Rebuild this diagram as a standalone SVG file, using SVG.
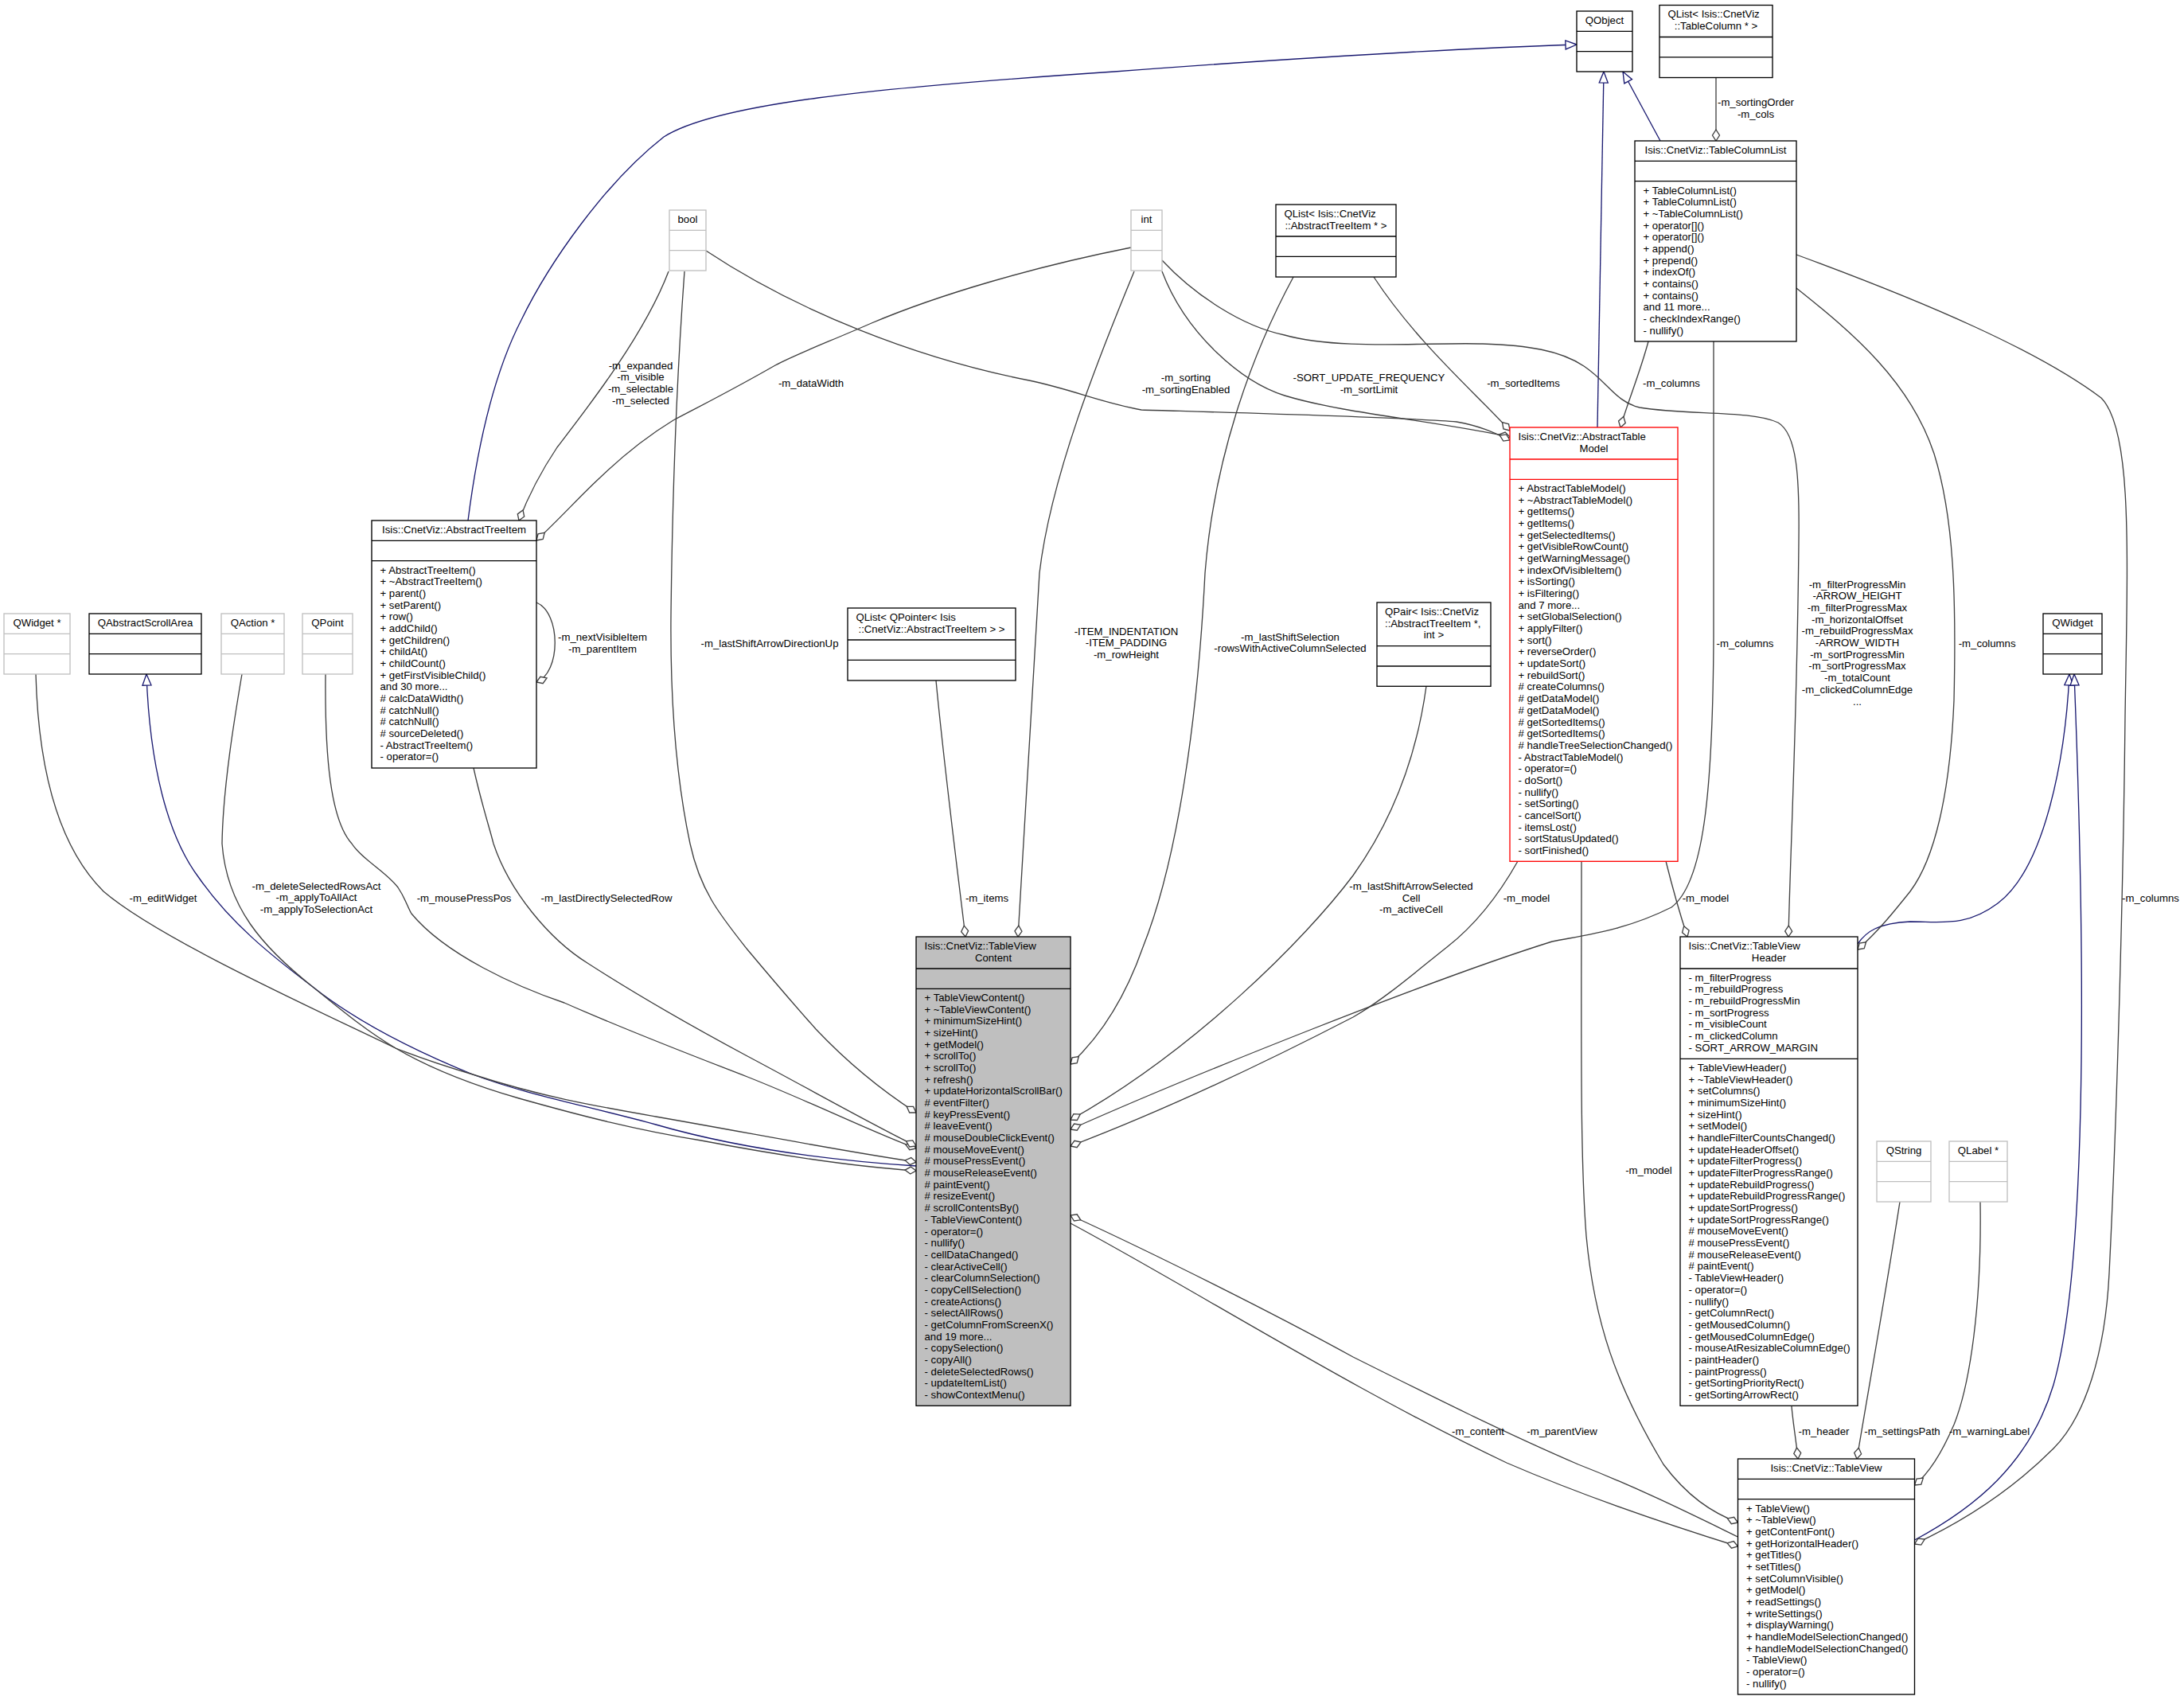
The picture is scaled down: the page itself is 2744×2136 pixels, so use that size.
<svg xmlns="http://www.w3.org/2000/svg" width="2744" height="2136" viewBox="0 0 2744 2136">
<style>
text{font-family:"Liberation Sans",Arial,Helvetica,sans-serif;font-size:13.2px;fill:#000}
.c{text-anchor:middle}
.bn rect{fill:#fff;stroke:#000;stroke-width:1.33}
.bn path{fill:none;stroke:#000;stroke-width:1.33}
.gn rect{fill:#fff;stroke:#bfbfbf;stroke-width:1.33}
.gn path{fill:none;stroke:#bfbfbf;stroke-width:1.33}
.rn rect{fill:#fff;stroke:#ff0000;stroke-width:1.33}
.rn path{fill:none;stroke:#ff0000;stroke-width:1.33}
#n_TableViewContent rect{fill:#bfbfbf}
.e{fill:none;stroke:#404040;stroke-width:1.33;marker-end:url(#dia)}
.i{fill:none;stroke:#191970;stroke-width:1.33;marker-end:url(#tri)}
</style>
<defs>
<marker id="dia" viewBox="-16 -6 17 12" refX="0" refY="0" markerWidth="17" markerHeight="12" markerUnits="userSpaceOnUse" orient="auto">
<path d="M0,0 L-7,-4.5 L-14,0 L-7,4.5 Z" fill="#fff" stroke="#404040" stroke-width="1.33"/>
</marker>
<marker id="tri" viewBox="-16 -7 17 14" refX="0" refY="0" markerWidth="17" markerHeight="14" markerUnits="userSpaceOnUse" orient="auto">
<path d="M0,0 L-14,-5.5 L-14,5.5 Z" fill="#fff" stroke="#191970" stroke-width="1.33"/>
</marker>
</defs>
<rect x="0" y="0" width="2744" height="2136" fill="#fff"/>

<g id="connectors">
<path class="i" d="M588,654 C600,560 620,470 655,402 C690,330 760,230 834,172 C900,130 1100,110 1400,90 C1600,75 1800,62 1981,56"/>
<path class="i" d="M2007,537 L2015,90"/>
<path class="i" d="M2086,177 L2039,90"/>
<path class="i" d="M1151,1465 C1000,1455 900,1435 824,1413 C740,1390 660,1375 594,1350 C520,1320 450,1285 393,1240 C340,1200 290,1160 250,1103 C210,1050 188,960 184,847"/>
<path class="i" d="M2334,1186 C2345,1170 2360,1160 2400,1158 C2440,1158 2470,1165 2510,1135 C2570,1090 2595,950 2600,847"/>
<path class="i" d="M2405.5,1935 C2480,1895 2550,1840 2580,1740 C2620,1600 2622,1250 2606,847"/>

<path class="e" d="M45,847 C48,960 70,1060 130,1120 C200,1180 400,1270 497,1317 C530,1330 560,1340 594,1350 C680,1378 750,1390 824,1403 C950,1425 1050,1445 1151,1460"/>
<path class="e" d="M304,847 C295,900 280,990 279,1060 C285,1140 330,1190 393,1240 C430,1270 460,1295 497,1317 C545,1345 600,1365 652,1380 C730,1402 800,1420 881,1433 C970,1450 1060,1465 1151,1471"/>
<path class="e" d="M409,847 C408,950 415,1030 442,1060 C455,1080 485,1095 500,1115 C510,1130 512,1140 517,1148 C560,1200 650,1240 709,1260 C800,1300 880,1330 939,1353 C1020,1385 1090,1420 1151,1443"/>
<path class="e" d="M595,965 C605,1010 615,1040 620,1060 C640,1120 690,1180 738,1210 C800,1250 870,1290 939,1327 C1020,1370 1090,1410 1151,1440"/>
<path class="e" d="M860,341 C852,450 845,600 843,773 C842,880 850,980 867,1060 C880,1120 905,1150 939,1193 C970,1230 1000,1265 1025,1293 C1060,1330 1100,1365 1151,1398"/>
<path class="e" d="M840,341 C810,420 740,510 700,562 C680,592 665,620 652,654"/>
<path class="e" d="M1421,311 C1300,335 1180,370 1095,406 C1040,430 1000,445 974,459 C920,490 880,510 846,528 C810,550 780,575 754,600 C730,622 705,650 674,679"/>
<path class="e" d="M674,757 C705,770 705,845 674,857"/>
<path class="e" d="M1425,341 C1380,450 1320,600 1306,720 C1298,850 1290,1000 1279,1177"/>
<path class="e" d="M1176,855 C1186,960 1200,1070 1213,1177"/>
<path class="e" d="M1625,348 C1570,450 1525,580 1514,720 C1505,900 1480,1080 1436,1190 C1415,1250 1385,1300 1345,1337"/>
<path class="e" d="M1792,862 C1780,950 1750,1030 1700,1100 C1640,1180 1500,1320 1345,1407"/>
<path class="e" d="M2153,429 L2153,800 C2152,1000 2140,1110 2100,1140 C2040,1170 1990,1175 1950,1183 C1800,1230 1500,1350 1345,1419"/>
<path class="e" d="M1907,1082 C1880,1130 1850,1165 1818,1190 C1780,1220 1740,1255 1700,1278 C1580,1340 1450,1400 1345,1440"/>
<path class="e" d="M2183.5,1931 C2130,1905 2060,1870 1983,1840 C1890,1800 1800,1755 1700,1705 C1600,1650 1450,1575 1345,1527"/>
<path class="e" d="M1345,1537 C1500,1620 1700,1747 1893,1838 C1990,1880 2100,1917 2183.5,1943"/>
<path class="e" d="M1987,1082 C1987,1300 1985,1450 1993,1553 C2003,1660 2030,1740 2090,1840 C2120,1880 2150,1900 2183.5,1913"/>
<path class="e" d="M2251,1767 C2253,1790 2256,1805 2259,1833"/>
<path class="e" d="M2387,1510 C2370,1620 2352,1720 2333,1833"/>
<path class="e" d="M2488,1510 C2490,1640 2475,1740 2455,1790 C2440,1825 2425,1850 2405.5,1866"/>
<path class="e" d="M2257,320 C2420,380 2560,440 2640,500 C2680,540 2673,700 2670,900 C2668,1100 2660,1400 2650,1600 C2645,1700 2620,1780 2580,1820 C2530,1870 2470,1910 2405.5,1940"/>
<path class="e" d="M2257,362 C2330,420 2400,480 2430,570 C2455,650 2458,750 2455,880 C2450,1000 2430,1080 2400,1120 C2380,1145 2360,1170 2334,1193"/>
<path class="e" d="M1460,327 C1500,370 1560,410 1614,421 C1680,440 1790,430 1863,432 C1920,434 1960,440 1990,460 C2020,480 2030,505 2060,512 C2120,522 2200,515 2234,531 C2258,545 2261,600 2260,680 C2258,900 2250,1050 2247,1177"/>
<path class="e" d="M2093,1082 C2100,1110 2108,1140 2120,1177"/>
<path class="e" d="M1460,341 C1490,420 1560,480 1614,497 C1690,520 1800,528 1897,549"/>
<path class="e" d="M887,315 C1000,390 1150,450 1293,478 C1350,490 1380,505 1434,515 C1600,520 1780,525 1830,530 C1860,535 1880,545 1897,553"/>
<path class="e" d="M1726,348 C1780,430 1850,490 1897,541"/>
<path class="e" d="M2071,429 C2060,470 2045,505 2036,537"/>
<path class="e" d="M2156,97 L2156,177"/>

<text class="c" x="205" y="1133">-m_editWidget</text>
<text class="c" x="397.5" y="1117.6">-m_deleteSelectedRowsAct<tspan x="397.5" dy="14.67">-m_applyToAllAct</tspan><tspan x="397.5" dy="14.67">-m_applyToSelectionAct</tspan></text>
<text class="c" x="583" y="1133">-m_mousePressPos</text>
<text class="c" x="762" y="1133">-m_lastDirectlySelectedRow</text>
<text class="c" x="805" y="463.5">-m_expanded<tspan x="805" dy="14.67">-m_visible</tspan><tspan x="805" dy="14.67">-m_selectable</tspan><tspan x="805" dy="14.67">-m_selected</tspan></text>
<text class="c" x="1019" y="485.7">-m_dataWidth</text>
<text class="c" x="757" y="805">-m_nextVisibleItem<tspan x="757" dy="14.67">-m_parentItem</tspan></text>
<text class="c" x="967" y="813.3">-m_lastShiftArrowDirectionUp</text>
<text class="c" x="1415" y="797.6">-ITEM_INDENTATION<tspan x="1415" dy="14.67">-ITEM_PADDING</tspan><tspan x="1415" dy="14.67">-m_rowHeight</tspan></text>
<text class="c" x="1621" y="804.6">-m_lastShiftSelection<tspan x="1621" dy="14.67">-rowsWithActiveColumnSelected</tspan></text>
<text class="c" x="1240" y="1133">-m_items</text>
<text class="c" x="1773" y="1118">-m_lastShiftArrowSelected<tspan x="1773" dy="14.67">Cell</tspan><tspan x="1773" dy="14.67">-m_activeCell</tspan></text>
<text class="c" x="1918" y="1133">-m_model</text>
<text class="c" x="2143" y="1133">-m_model</text>
<text class="c" x="1490" y="479.3">-m_sorting<tspan x="1490" dy="14.67">-m_sortingEnabled</tspan></text>
<text class="c" x="1720" y="479.3">-SORT_UPDATE_FREQUENCY<tspan x="1720" dy="14.67">-m_sortLimit</tspan></text>
<text class="c" x="1914" y="485.7">-m_sortedItems</text>
<text class="c" x="2100" y="485.7">-m_columns</text>
<text class="c" x="2206" y="133.3">-m_sortingOrder<tspan x="2206" dy="14.67">-m_cols</tspan></text>
<text class="c" x="2192.5" y="813">-m_columns</text>
<text class="c" x="2333.5" y="738.8">-m_filterProgressMin<tspan x="2333.5" dy="14.67">-ARROW_HEIGHT</tspan><tspan x="2333.5" dy="14.67">-m_filterProgressMax</tspan><tspan x="2333.5" dy="14.67">-m_horizontalOffset</tspan><tspan x="2333.5" dy="14.67">-m_rebuildProgressMax</tspan><tspan x="2333.5" dy="14.67">-ARROW_WIDTH</tspan><tspan x="2333.5" dy="14.67">-m_sortProgressMin</tspan><tspan x="2333.5" dy="14.67">-m_sortProgressMax</tspan><tspan x="2333.5" dy="14.67">-m_totalCount</tspan><tspan x="2333.5" dy="14.67">-m_clickedColumnEdge</tspan><tspan x="2333.5" dy="14.67">...</tspan></text>
<text class="c" x="2496.6" y="813">-m_columns</text>
<text class="c" x="2702" y="1132.5">-m_columns</text>
<text class="c" x="2071.5" y="1475">-m_model</text>
<text class="c" x="1857" y="1803">-m_content</text>
<text class="c" x="1962.5" y="1803">-m_parentView</text>
<text class="c" x="2291.5" y="1803">-m_header</text>
<text class="c" x="2390" y="1803">-m_settingsPath</text>
<text class="c" x="2499.5" y="1803">-m_warningLabel</text>
</g>

<g id="n_QWidgetPtr" class="gn"><rect x="5" y="771" width="83" height="76"/><path d="M5,796.3H88M5,821.7H88"/><text class="c" x="46.5" y="786.8">QWidget *</text></g>
<g id="n_QAbstractScrollArea" class="bn"><rect x="112" y="771" width="141" height="76"/><path d="M112,796.3H253M112,821.7H253"/><text class="c" x="182.5" y="786.8">QAbstractScrollArea</text></g>
<g id="n_QActionPtr" class="gn"><rect x="278" y="771" width="79" height="76"/><path d="M278,796.3H357M278,821.7H357"/><text class="c" x="317.5" y="786.8">QAction *</text></g>
<g id="n_QPoint" class="gn"><rect x="380" y="771" width="63" height="76"/><path d="M380,796.3H443M380,821.7H443"/><text class="c" x="411.5" y="786.8">QPoint</text></g>

<g id="n_AbstractTreeItem" class="bn"><rect x="467" y="654" width="207" height="311"/><path d="M467,679.3H674M467,704.7H674"/><text class="c" x="570.5" y="669.8">Isis::CnetViz::AbstractTreeItem</text>
<text x="477.5" y="720.5"><tspan x="477.5" dy="0">+ AbstractTreeItem()</tspan><tspan x="477.5" dy="14.67">+ ~AbstractTreeItem()</tspan><tspan x="477.5" dy="14.67">+ parent()</tspan><tspan x="477.5" dy="14.67">+ setParent()</tspan><tspan x="477.5" dy="14.67">+ row()</tspan><tspan x="477.5" dy="14.67">+ addChild()</tspan><tspan x="477.5" dy="14.67">+ getChildren()</tspan><tspan x="477.5" dy="14.67">+ childAt()</tspan><tspan x="477.5" dy="14.67">+ childCount()</tspan><tspan x="477.5" dy="14.67">+ getFirstVisibleChild()</tspan><tspan x="477.5" dy="14.67">and 30 more...</tspan><tspan x="477.5" dy="14.67"># calcDataWidth()</tspan><tspan x="477.5" dy="14.67"># catchNull()</tspan><tspan x="477.5" dy="14.67"># catchNull()</tspan><tspan x="477.5" dy="14.67"># sourceDeleted()</tspan><tspan x="477.5" dy="14.67">- AbstractTreeItem()</tspan><tspan x="477.5" dy="14.67">- operator=()</tspan></text></g>

<g id="n_bool" class="gn"><rect x="841" y="264" width="46" height="76"/><path d="M841,289.3H887M841,314.7H887"/><text class="c" x="864" y="279.8">bool</text></g>
<g id="n_int" class="gn"><rect x="1421" y="264" width="39" height="76"/><path d="M1421,289.3H1460M1421,314.7H1460"/><text class="c" x="1440.5" y="279.8">int</text></g>

<g id="n_QListQPointer" class="bn"><rect x="1065" y="764" width="211" height="91"/><path d="M1065,804H1276M1065,829.3H1276"/><text x="1075.5" y="779.8">QList&lt; QPointer&lt; Isis</text><text class="c" x="1170.5" y="794.5">::CnetViz::AbstractTreeItem &gt; &gt;</text></g>
<g id="n_QListAbstractTreeItem" class="bn"><rect x="1603" y="257" width="151" height="91"/><path d="M1603,297H1754M1603,322.3H1754"/><text x="1613.5" y="272.8">QList&lt; Isis::CnetViz</text><text class="c" x="1678.5" y="287.5">::AbstractTreeItem * &gt;</text></g>
<g id="n_QPair" class="bn"><rect x="1730" y="757" width="143" height="105.3"/><path d="M1730,811.7H1873M1730,837H1873"/><text x="1740" y="772.8">QPair&lt; Isis::CnetViz</text><text x="1740" y="787.5">::AbstractTreeItem *,</text><text class="c" x="1801.5" y="802.2">int &gt;</text></g>

<g id="n_AbstractTableModel" class="rn"><rect x="1897" y="537" width="211" height="545.3"/><path d="M1897,577H2108M1897,602.3H2108"/><text x="1907.5" y="552.8">Isis::CnetViz::AbstractTable</text><text class="c" x="2002.5" y="567.5">Model</text>
<text x="1907.5" y="618.1"><tspan x="1907.5" dy="0">+ AbstractTableModel()</tspan><tspan x="1907.5" dy="14.67">+ ~AbstractTableModel()</tspan><tspan x="1907.5" dy="14.67">+ getItems()</tspan><tspan x="1907.5" dy="14.67">+ getItems()</tspan><tspan x="1907.5" dy="14.67">+ getSelectedItems()</tspan><tspan x="1907.5" dy="14.67">+ getVisibleRowCount()</tspan><tspan x="1907.5" dy="14.67">+ getWarningMessage()</tspan><tspan x="1907.5" dy="14.67">+ indexOfVisibleItem()</tspan><tspan x="1907.5" dy="14.67">+ isSorting()</tspan><tspan x="1907.5" dy="14.67">+ isFiltering()</tspan><tspan x="1907.5" dy="14.67">and 7 more...</tspan><tspan x="1907.5" dy="14.67">+ setGlobalSelection()</tspan><tspan x="1907.5" dy="14.67">+ applyFilter()</tspan><tspan x="1907.5" dy="14.67">+ sort()</tspan><tspan x="1907.5" dy="14.67">+ reverseOrder()</tspan><tspan x="1907.5" dy="14.67">+ updateSort()</tspan><tspan x="1907.5" dy="14.67">+ rebuildSort()</tspan><tspan x="1907.5" dy="14.67"># createColumns()</tspan><tspan x="1907.5" dy="14.67"># getDataModel()</tspan><tspan x="1907.5" dy="14.67"># getDataModel()</tspan><tspan x="1907.5" dy="14.67"># getSortedItems()</tspan><tspan x="1907.5" dy="14.67"># getSortedItems()</tspan><tspan x="1907.5" dy="14.67"># handleTreeSelectionChanged()</tspan><tspan x="1907.5" dy="14.67">- AbstractTableModel()</tspan><tspan x="1907.5" dy="14.67">- operator=()</tspan><tspan x="1907.5" dy="14.67">- doSort()</tspan><tspan x="1907.5" dy="14.67">- nullify()</tspan><tspan x="1907.5" dy="14.67">- setSorting()</tspan><tspan x="1907.5" dy="14.67">- cancelSort()</tspan><tspan x="1907.5" dy="14.67">- itemsLost()</tspan><tspan x="1907.5" dy="14.67">- sortStatusUpdated()</tspan><tspan x="1907.5" dy="14.67">- sortFinished()</tspan></text></g>

<g id="n_QObject" class="bn"><rect x="1981" y="14" width="70" height="76"/><path d="M1981,39.3H2051M1981,64.7H2051"/><text class="c" x="2016" y="29.8">QObject</text></g>
<g id="n_QListTableColumn" class="bn"><rect x="2085" y="6.5" width="142" height="91"/><path d="M2085,46.5H2227M2085,71.8H2227"/><text x="2095.5" y="22.3">QList&lt; Isis::CnetViz</text><text class="c" x="2156" y="37">::TableColumn * &gt;</text></g>
<g id="n_TableColumnList" class="bn"><rect x="2054" y="177" width="203" height="252"/><path d="M2054,202.3H2257M2054,227.7H2257"/><text class="c" x="2155.5" y="192.8">Isis::CnetViz::TableColumnList</text>
<text x="2064.5" y="243.5"><tspan x="2064.5" dy="0">+ TableColumnList()</tspan><tspan x="2064.5" dy="14.67">+ TableColumnList()</tspan><tspan x="2064.5" dy="14.67">+ ~TableColumnList()</tspan><tspan x="2064.5" dy="14.67">+ operator[]()</tspan><tspan x="2064.5" dy="14.67">+ operator[]()</tspan><tspan x="2064.5" dy="14.67">+ append()</tspan><tspan x="2064.5" dy="14.67">+ prepend()</tspan><tspan x="2064.5" dy="14.67">+ indexOf()</tspan><tspan x="2064.5" dy="14.67">+ contains()</tspan><tspan x="2064.5" dy="14.67">+ contains()</tspan><tspan x="2064.5" dy="14.67">and 11 more...</tspan><tspan x="2064.5" dy="14.67">- checkIndexRange()</tspan><tspan x="2064.5" dy="14.67">- nullify()</tspan></text></g>

<g id="n_QWidget" class="bn"><rect x="2567" y="771" width="74" height="76"/><path d="M2567,796.3H2641M2567,821.7H2641"/><text class="c" x="2604" y="786.8">QWidget</text></g>

<g id="n_TableViewContent" class="bn"><rect x="1151" y="1177" width="194" height="589.3"/><path d="M1151,1217H1345M1151,1242.3H1345"/><text x="1161.5" y="1192.8">Isis::CnetViz::TableView</text><text class="c" x="1248" y="1207.5">Content</text>
<text x="1161.5" y="1258.1"><tspan x="1161.5" dy="0">+ TableViewContent()</tspan><tspan x="1161.5" dy="14.67">+ ~TableViewContent()</tspan><tspan x="1161.5" dy="14.67">+ minimumSizeHint()</tspan><tspan x="1161.5" dy="14.67">+ sizeHint()</tspan><tspan x="1161.5" dy="14.67">+ getModel()</tspan><tspan x="1161.5" dy="14.67">+ scrollTo()</tspan><tspan x="1161.5" dy="14.67">+ scrollTo()</tspan><tspan x="1161.5" dy="14.67">+ refresh()</tspan><tspan x="1161.5" dy="14.67">+ updateHorizontalScrollBar()</tspan><tspan x="1161.5" dy="14.67"># eventFilter()</tspan><tspan x="1161.5" dy="14.67"># keyPressEvent()</tspan><tspan x="1161.5" dy="14.67"># leaveEvent()</tspan><tspan x="1161.5" dy="14.67"># mouseDoubleClickEvent()</tspan><tspan x="1161.5" dy="14.67"># mouseMoveEvent()</tspan><tspan x="1161.5" dy="14.67"># mousePressEvent()</tspan><tspan x="1161.5" dy="14.67"># mouseReleaseEvent()</tspan><tspan x="1161.5" dy="14.67"># paintEvent()</tspan><tspan x="1161.5" dy="14.67"># resizeEvent()</tspan><tspan x="1161.5" dy="14.67"># scrollContentsBy()</tspan><tspan x="1161.5" dy="14.67">- TableViewContent()</tspan><tspan x="1161.5" dy="14.67">- operator=()</tspan><tspan x="1161.5" dy="14.67">- nullify()</tspan><tspan x="1161.5" dy="14.67">- cellDataChanged()</tspan><tspan x="1161.5" dy="14.67">- clearActiveCell()</tspan><tspan x="1161.5" dy="14.67">- clearColumnSelection()</tspan><tspan x="1161.5" dy="14.67">- copyCellSelection()</tspan><tspan x="1161.5" dy="14.67">- createActions()</tspan><tspan x="1161.5" dy="14.67">- selectAllRows()</tspan><tspan x="1161.5" dy="14.67">- getColumnFromScreenX()</tspan><tspan x="1161.5" dy="14.67">and 19 more...</tspan><tspan x="1161.5" dy="14.67">- copySelection()</tspan><tspan x="1161.5" dy="14.67">- copyAll()</tspan><tspan x="1161.5" dy="14.67">- deleteSelectedRows()</tspan><tspan x="1161.5" dy="14.67">- updateItemList()</tspan><tspan x="1161.5" dy="14.67">- showContextMenu()</tspan></text></g>

<g id="n_TableViewHeader" class="bn"><rect x="2111" y="1177" width="223" height="589.3"/><path d="M2111,1217H2334M2111,1330.3H2334"/><text x="2121.5" y="1192.8">Isis::CnetViz::TableView</text><text class="c" x="2222.5" y="1207.5">Header</text>
<text x="2121.5" y="1232.8"><tspan x="2121.5" dy="0">- m_filterProgress</tspan><tspan x="2121.5" dy="14.67">- m_rebuildProgress</tspan><tspan x="2121.5" dy="14.67">- m_rebuildProgressMin</tspan><tspan x="2121.5" dy="14.67">- m_sortProgress</tspan><tspan x="2121.5" dy="14.67">- m_visibleCount</tspan><tspan x="2121.5" dy="14.67">- m_clickedColumn</tspan><tspan x="2121.5" dy="14.67">- SORT_ARROW_MARGIN</tspan></text>
<text x="2121.5" y="1346.1"><tspan x="2121.5" dy="0">+ TableViewHeader()</tspan><tspan x="2121.5" dy="14.67">+ ~TableViewHeader()</tspan><tspan x="2121.5" dy="14.67">+ setColumns()</tspan><tspan x="2121.5" dy="14.67">+ minimumSizeHint()</tspan><tspan x="2121.5" dy="14.67">+ sizeHint()</tspan><tspan x="2121.5" dy="14.67">+ setModel()</tspan><tspan x="2121.5" dy="14.67">+ handleFilterCountsChanged()</tspan><tspan x="2121.5" dy="14.67">+ updateHeaderOffset()</tspan><tspan x="2121.5" dy="14.67">+ updateFilterProgress()</tspan><tspan x="2121.5" dy="14.67">+ updateFilterProgressRange()</tspan><tspan x="2121.5" dy="14.67">+ updateRebuildProgress()</tspan><tspan x="2121.5" dy="14.67">+ updateRebuildProgressRange()</tspan><tspan x="2121.5" dy="14.67">+ updateSortProgress()</tspan><tspan x="2121.5" dy="14.67">+ updateSortProgressRange()</tspan><tspan x="2121.5" dy="14.67"># mouseMoveEvent()</tspan><tspan x="2121.5" dy="14.67"># mousePressEvent()</tspan><tspan x="2121.5" dy="14.67"># mouseReleaseEvent()</tspan><tspan x="2121.5" dy="14.67"># paintEvent()</tspan><tspan x="2121.5" dy="14.67">- TableViewHeader()</tspan><tspan x="2121.5" dy="14.67">- operator=()</tspan><tspan x="2121.5" dy="14.67">- nullify()</tspan><tspan x="2121.5" dy="14.67">- getColumnRect()</tspan><tspan x="2121.5" dy="14.67">- getMousedColumn()</tspan><tspan x="2121.5" dy="14.67">- getMousedColumnEdge()</tspan><tspan x="2121.5" dy="14.67">- mouseAtResizableColumnEdge()</tspan><tspan x="2121.5" dy="14.67">- paintHeader()</tspan><tspan x="2121.5" dy="14.67">- paintProgress()</tspan><tspan x="2121.5" dy="14.67">- getSortingPriorityRect()</tspan><tspan x="2121.5" dy="14.67">- getSortingArrowRect()</tspan></text></g>

<g id="n_QString" class="gn"><rect x="2358" y="1434" width="68" height="76"/><path d="M2358,1459.3H2426M2358,1484.7H2426"/><text class="c" x="2392" y="1449.8">QString</text></g>
<g id="n_QLabelPtr" class="gn"><rect x="2449" y="1434" width="73" height="76"/><path d="M2449,1459.3H2522M2449,1484.7H2522"/><text class="c" x="2485.5" y="1449.8">QLabel *</text></g>

<g id="n_TableView" class="bn"><rect x="2183.5" y="1833" width="222" height="296"/><path d="M2183.5,1858.3H2405.5M2183.5,1883.7H2405.5"/><text class="c" x="2294.5" y="1848.8">Isis::CnetViz::TableView</text>
<text x="2194" y="1899.5"><tspan x="2194" dy="0">+ TableView()</tspan><tspan x="2194" dy="14.67">+ ~TableView()</tspan><tspan x="2194" dy="14.67">+ getContentFont()</tspan><tspan x="2194" dy="14.67">+ getHorizontalHeader()</tspan><tspan x="2194" dy="14.67">+ getTitles()</tspan><tspan x="2194" dy="14.67">+ setTitles()</tspan><tspan x="2194" dy="14.67">+ setColumnVisible()</tspan><tspan x="2194" dy="14.67">+ getModel()</tspan><tspan x="2194" dy="14.67">+ readSettings()</tspan><tspan x="2194" dy="14.67">+ writeSettings()</tspan><tspan x="2194" dy="14.67">+ displayWarning()</tspan><tspan x="2194" dy="14.67">+ handleModelSelectionChanged()</tspan><tspan x="2194" dy="14.67">+ handleModelSelectionChanged()</tspan><tspan x="2194" dy="14.67">- TableView()</tspan><tspan x="2194" dy="14.67">- operator=()</tspan><tspan x="2194" dy="14.67">- nullify()</tspan></text></g>
</svg>
